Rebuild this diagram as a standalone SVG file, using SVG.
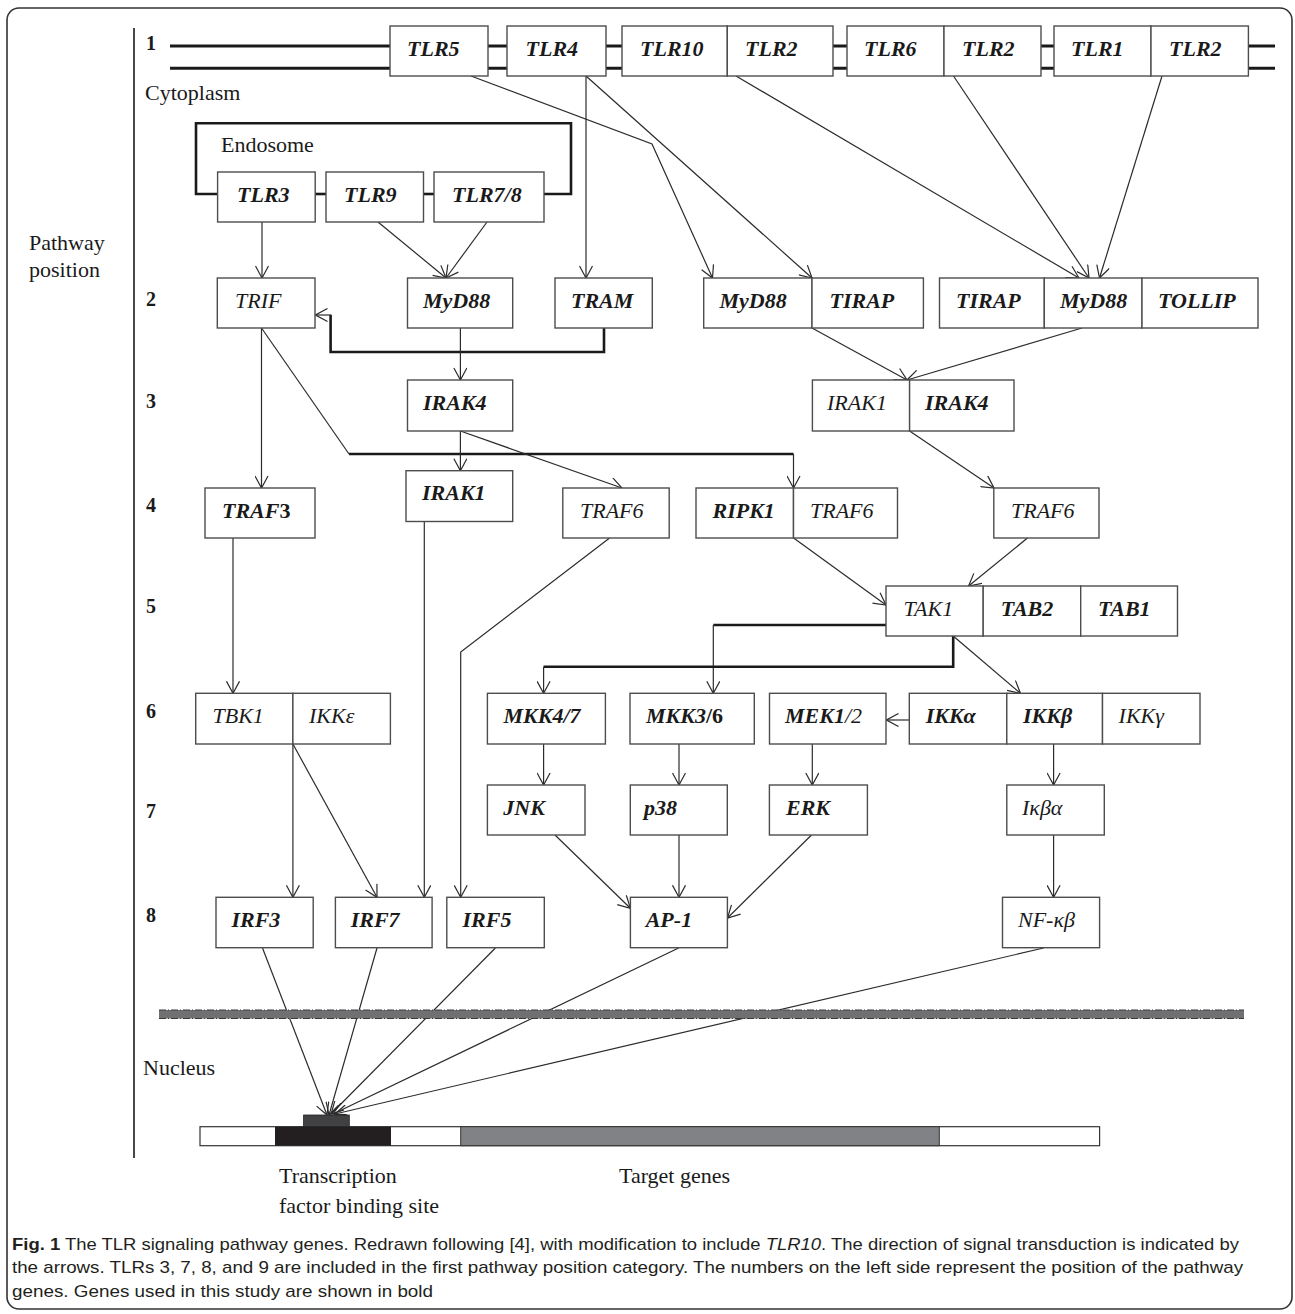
<svg xmlns="http://www.w3.org/2000/svg" width="1295" height="1314" viewBox="0 0 1295 1314">
<defs>
<style>
.box{fill:#fff;stroke:#4d4d4d;stroke-width:1.4}
.bi{font-family:"Liberation Serif",serif;font-size:22px;font-weight:bold;font-style:italic;fill:#1a1a1a}
.ri{font-family:"Liberation Serif",serif;font-size:22px;font-style:italic;fill:#1a1a1a}
.lbl{font-family:"Liberation Serif",serif;font-size:22px;fill:#1a1a1a}
.num{font-family:"Liberation Serif",serif;font-size:20px;font-weight:bold;fill:#1a1a1a}
.cap{font-family:"Liberation Sans",Arial,sans-serif;font-size:17px;fill:#231f20}
.ln{fill:none;stroke:#2b2b2b;stroke-width:1.2}
.thick{fill:none;stroke:#1a1a1a;stroke-width:2.6}
.arr{marker-end:url(#ah)}
</style>
<marker id="ah" markerUnits="userSpaceOnUse" markerWidth="14" markerHeight="14" viewBox="0 0 14 14" refX="13" refY="7" orient="auto">
<path d="M1,0.5 L13,7 L1,13.5" fill="none" stroke="#2b2b2b" stroke-width="1.2"/>
</marker>
</defs>
<rect x="0" y="0" width="1295" height="1314" fill="#fff"/>
<rect id="frame" x="7" y="8" width="1285" height="1301" rx="12" fill="none" stroke="#333" stroke-width="1.6"/>

<g id="axis">
<line x1="134" y1="28" x2="134" y2="1158" stroke="#1a1a1a" stroke-width="1.6"/>
<text class="num" x="146" y="50">1</text>
<text class="num" x="146" y="306">2</text>
<text class="num" x="146" y="408">3</text>
<text class="num" x="146" y="512">4</text>
<text class="num" x="146" y="613">5</text>
<text class="num" x="146" y="718">6</text>
<text class="num" x="146" y="818">7</text>
<text class="num" x="146" y="922">8</text>
<text class="lbl" x="29" y="250">Pathway</text>
<text class="lbl" x="29" y="277">position</text>
<text class="lbl" x="145" y="100">Cytoplasm</text>
<text class="lbl" x="143" y="1075">Nucleus</text>
</g>

<g id="membrane">
<line x1="170" y1="46" x2="1275" y2="46" stroke="#1a1a1a" stroke-width="3"/>
<line x1="170" y1="68.3" x2="1275" y2="68.3" stroke="#1a1a1a" stroke-width="3"/>
</g>

<g id="endosome">
<path class="thick" d="M217.6,194 H196 V123.3 H571 V194 H544"/>
<line x1="315" y1="194" x2="326" y2="194" stroke="#1a1a1a" stroke-width="2.6"/>
<line x1="423.5" y1="194" x2="434" y2="194" stroke="#1a1a1a" stroke-width="2.6"/>
<text class="lbl" x="221" y="152">Endosome</text>
</g>

<g id="connectors">
<path class="ln arr" d="M471,76 L652,144 L712.5,278"/>
<path class="ln arr" d="M586,76 V278"/>
<path class="ln arr" d="M586,76 L812,278"/>
<path class="ln arr" d="M736,76 L1079,278"/>
<path class="ln arr" d="M953.5,76 L1089,278"/>
<path class="ln arr" d="M1162,76 L1099.5,278"/>
<path class="ln arr" d="M262,222 V278"/>
<path class="ln arr" d="M378,222 L446,278"/>
<path class="ln arr" d="M487,222 L446,278"/>
<path class="thick" d="M604,328 V352 H330.6 V315"/>
<path class="ln arr" d="M331.5,315 H315.5"/>
<path class="ln arr" d="M460.4,328 V380"/>
<path class="ln arr" d="M261.5,328 V488"/>
<path class="ln" d="M261.5,328 L349,454"/>
<path class="thick" d="M349,454 H793.5"/>
<path class="ln arr" d="M793.5,454 V488"/>
<path class="ln arr" d="M460.4,431 V470.7"/>
<path class="ln arr" d="M460.4,431 L622,488"/>
<path class="ln arr" d="M812,328 L907,380"/>
<path class="ln arr" d="M1082,328 L907,380"/>
<path class="ln arr" d="M909.6,431 L994,488"/>
<path class="ln arr" d="M233,538 V693.3"/>
<path class="ln arr" d="M424.3,521.5 V897.3"/>
<path class="ln arr" d="M609.6,538 L460.7,652 V897.3"/>
<path class="ln arr" d="M793.6,538 L886,605"/>
<path class="ln arr" d="M1027.5,538 L968.6,586"/>
<path class="thick" d="M886,625 H713.3"/>
<path class="ln arr" d="M713.3,625 V693.3"/>
<path class="thick" d="M953.2,636 V666.7 H543.6"/>
<path class="ln arr" d="M543.6,666.7 V693.3"/>
<path class="ln arr" d="M953.2,636 L1020.4,693.3"/>
<path class="ln arr" d="M909.3,720 H886.5"/>
<path class="ln arr" d="M543.6,744 V785"/>
<path class="ln arr" d="M679,744 V785"/>
<path class="ln arr" d="M812.3,744 V785"/>
<path class="ln arr" d="M1053.6,744 V785"/>
<path class="ln arr" d="M292.9,744 V897.3"/>
<path class="ln arr" d="M292.9,744 L377,897.3"/>
<path class="ln arr" d="M555,835 L630.4,908.3"/>
<path class="ln arr" d="M679,835 V897.3"/>
<path class="ln arr" d="M811.5,835 L727.5,918"/>
<path class="ln arr" d="M1053.6,835 V897.3"/>
<path class="ln arr" d="M262.5,948 L327,1115"/>
<path class="ln arr" d="M377,948 L329,1115"/>
<path class="ln arr" d="M495.4,948 L331,1114"/>
<path class="ln arr" d="M678.6,948 L333,1114"/>
<path class="ln arr" d="M1043.6,948 L335,1114"/>
</g>

<g id="nuclear-membrane">
<rect x="159" y="1010" width="1085" height="8.5" fill="#707073"/>
<line x1="159" y1="1010" x2="1244" y2="1010" stroke="#3a3a3a" stroke-width="1" stroke-dasharray="7 2 1 2"/>
<line x1="159" y1="1018.5" x2="1244" y2="1018.5" stroke="#3a3a3a" stroke-width="1" stroke-dasharray="7 2 1 2"/>
</g>

<g id="tlr5"><rect class="box" x="390" y="26" width="98" height="50"/><text class="bi" x="407" y="56">TLR5</text></g>
<g id="tlr4"><rect class="box" x="507" y="26" width="99" height="50"/><text class="bi" x="525.5" y="56">TLR4</text></g>
<g id="tlr10-tlr2"><rect class="box" x="622" y="26" width="105.3" height="50"/><rect class="box" x="727.3" y="26" width="105.7" height="50"/><text class="bi" x="640" y="56">TLR10</text><text class="bi" x="745" y="56">TLR2</text></g>
<g id="tlr6-tlr2"><rect class="box" x="847" y="26" width="97" height="50"/><rect class="box" x="944" y="26" width="97" height="50"/><text class="bi" x="864" y="56">TLR6</text><text class="bi" x="962" y="56">TLR2</text></g>
<g id="tlr1-tlr2"><rect class="box" x="1054" y="26" width="97" height="50"/><rect class="box" x="1151" y="26" width="97.4" height="50"/><text class="bi" x="1071" y="56">TLR1</text><text class="bi" x="1169" y="56">TLR2</text></g>

<g id="tlr3"><rect class="box" x="217.6" y="172" width="97.6" height="50"/><text class="bi" x="237" y="202">TLR3</text></g>
<g id="tlr9"><rect class="box" x="326" y="172" width="97.5" height="50"/><text class="bi" x="344" y="202">TLR9</text></g>
<g id="tlr78"><rect class="box" x="434" y="172" width="110" height="50"/><text class="bi" x="452" y="202">TLR7/8</text></g>

<g id="trif"><rect class="box" x="217.3" y="278" width="97.7" height="50"/><text class="ri" x="235" y="308">TRIF</text></g>
<g id="myd88"><rect class="box" x="407.5" y="278" width="105.2" height="50"/><text class="bi" x="423" y="308">MyD88</text></g>
<g id="tram"><rect class="box" x="555" y="278" width="97.3" height="50"/><text class="bi" x="571" y="308">TRAM</text></g>
<g id="myd88-tirap"><rect class="box" x="703.7" y="278" width="108.3" height="50"/><rect class="box" x="812" y="278" width="111.4" height="50"/><text class="bi" x="719.5" y="308">MyD88</text><text class="bi" x="829.5" y="308">TIRAP</text></g>
<g id="tirap-myd88-tollip"><rect class="box" x="939.5" y="278" width="104.8" height="50"/><rect class="box" x="1044.3" y="278" width="97.7" height="50"/><rect class="box" x="1142" y="278" width="116" height="50"/><text class="bi" x="956" y="308">TIRAP</text><text class="bi" x="1060" y="308">MyD88</text><text class="bi" x="1158" y="308">TOLLIP</text></g>

<g id="irak4"><rect class="box" x="407.5" y="380" width="105.2" height="51"/><text class="bi" x="423" y="410">IRAK4</text></g>
<g id="irak1-irak4"><rect class="box" x="812.4" y="380" width="97.2" height="51"/><rect class="box" x="909.6" y="380" width="104.4" height="51"/><text class="ri" x="827" y="410">IRAK1</text><text class="bi" x="925" y="410">IRAK4</text></g>

<g id="irak1"><rect class="box" x="406" y="470.7" width="106.7" height="50.8"/><text class="bi" x="422" y="500">IRAK1</text></g>
<g id="traf3"><rect class="box" x="205" y="488" width="110" height="50"/><text class="bi" x="222" y="518">TRAF<tspan font-style="normal">3</tspan></text></g>
<g id="traf6-a"><rect class="box" x="562.8" y="488" width="106.4" height="50"/><text class="ri" x="580" y="518">TRAF6</text></g>
<g id="ripk1-traf6"><rect class="box" x="696" y="488" width="97.5" height="50"/><rect class="box" x="793.5" y="488" width="104" height="50"/><text class="bi" x="712.5" y="518">RIPK1</text><text class="ri" x="810" y="518">TRAF6</text></g>
<g id="traf6-b"><rect class="box" x="993.8" y="488" width="105.2" height="50"/><text class="ri" x="1011" y="518">TRAF6</text></g>

<g id="tak1-tab2-tab1"><rect class="box" x="886" y="586" width="97.2" height="50"/><rect class="box" x="983.2" y="586" width="97.5" height="50"/><rect class="box" x="1080.7" y="586" width="96.8" height="50"/><text class="ri" x="903.5" y="616">TAK1</text><text class="bi" x="1000.7" y="616">TAB2</text><text class="bi" x="1098" y="616">TAB1</text></g>

<g id="tbk1-ikke"><rect class="box" x="195.7" y="693.3" width="97.2" height="50.7"/><rect class="box" x="292.9" y="693.3" width="97.5" height="50.7"/><text class="ri" x="212.5" y="723">TBK1</text><text class="ri" x="309" y="723">IKKε</text></g>
<g id="mkk47"><rect class="box" x="487.4" y="693.3" width="118" height="50.7"/><text class="bi" x="503.5" y="723">MKK4/7</text></g>
<g id="mkk36"><rect class="box" x="630" y="693.3" width="124.3" height="50.7"/><text class="bi" x="646" y="723">MKK3<tspan font-style="normal">/6</tspan></text></g>
<g id="mek12"><rect class="box" x="769.5" y="693.3" width="116.5" height="50.7"/><text class="bi" x="785" y="723">MEK1<tspan font-weight="normal">/2</tspan></text></g>
<g id="ikk"><rect class="box" x="909.3" y="693.3" width="97.5" height="50.7"/><rect class="box" x="1006.8" y="693.3" width="95.7" height="50.7"/><rect class="box" x="1102.5" y="693.3" width="97.5" height="50.7"/><text class="bi" x="925.7" y="723">IKKα</text><text class="bi" x="1023" y="723">IKKβ</text><text class="ri" x="1118.6" y="723">IKKγ</text></g>

<g id="jnk"><rect class="box" x="487.4" y="785" width="97.6" height="50"/><text class="bi" x="503.3" y="815">JNK</text></g>
<g id="p38"><rect class="box" x="630.3" y="785" width="97" height="50"/><text class="bi" x="644" y="815">p38</text></g>
<g id="erk"><rect class="box" x="769.4" y="785" width="98" height="50"/><text class="bi" x="786" y="815">ERK</text></g>
<g id="ikba"><rect class="box" x="1006.8" y="785" width="97.5" height="50"/><text class="ri" x="1022" y="815">Iκβα</text></g>

<g id="irf3"><rect class="box" x="216" y="897.3" width="97.2" height="50.4"/><text class="bi" x="231.4" y="927">IRF3</text></g>
<g id="irf7"><rect class="box" x="335.4" y="897.3" width="96.7" height="50.4"/><text class="bi" x="350.7" y="927">IRF7</text></g>
<g id="irf5"><rect class="box" x="446.8" y="897.3" width="97.5" height="50.4"/><text class="bi" x="462.5" y="927">IRF5</text></g>
<g id="ap1"><rect class="box" x="630.4" y="897.3" width="97" height="50.4"/><text class="bi" x="645.7" y="927">AP-1</text></g>
<g id="nfkb"><rect class="box" x="1002.5" y="897.3" width="97.1" height="50.4"/><text class="ri" x="1018" y="927">NF-κβ</text></g>

<g id="gene">
<rect x="200" y="1126.7" width="899.6" height="19" fill="#fff" stroke="#333" stroke-width="1.2"/>
<rect x="275" y="1126.7" width="116" height="19" fill="#231f20"/>
<rect x="460.7" y="1126.7" width="478.6" height="19" fill="#808285" stroke="#333" stroke-width="1"/>
<rect x="303.6" y="1115" width="45.7" height="11.7" fill="#414042" stroke="#222" stroke-width="0.8"/>
<text class="lbl" x="279" y="1183">Transcription</text>
<text class="lbl" x="279" y="1213">factor binding site</text>
<text class="lbl" x="619" y="1183">Target genes</text>
</g>

<g id="caption">
<text class="cap" x="12" y="1250" textLength="1227" lengthAdjust="spacingAndGlyphs"><tspan font-weight="bold">Fig. 1</tspan> The TLR signaling pathway genes. Redrawn following [4], with modification to include <tspan font-style="italic">TLR10</tspan>. The direction of signal transduction is indicated by</text>
<text class="cap" x="12" y="1273.3" textLength="1231" lengthAdjust="spacingAndGlyphs">the arrows. TLRs 3, 7, 8, and 9 are included in the first pathway position category. The numbers on the left side represent the position of the pathway</text>
<text class="cap" x="12" y="1296.7" textLength="421" lengthAdjust="spacingAndGlyphs">genes. Genes used in this study are shown in bold</text>
</g>
</svg>
